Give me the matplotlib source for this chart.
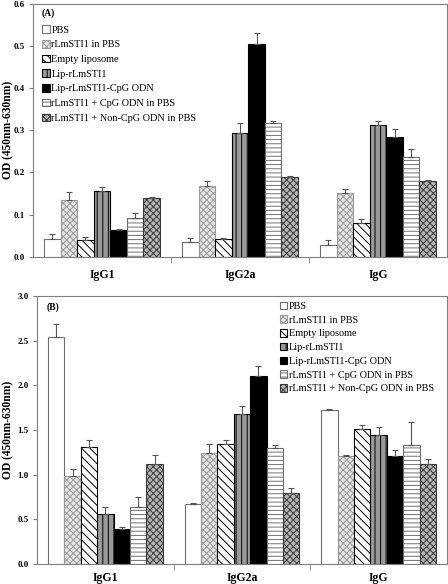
import numpy as np
import matplotlib
matplotlib.use('Agg')
import matplotlib.pyplot as plt

plt.rcParams['font.family'] = ['Liberation Serif', 'DejaVu Serif']
plt.rcParams['hatch.linewidth'] = 0.7

categories = ['IgG1', 'IgG2a', 'IgG']
groups = ['PBS', 'rLmSTI1 in PBS', 'Empty liposome', 'Lip-rLmSTI1',
          'Lip-rLmSTI1-CpG ODN', 'rLmSTI1 + CpG ODN in PBS',
          'rLmSTI1 + Non-CpG ODN in PBS']

# panel A, one list per group: IgG1, IgG2a, IgG
a_vals = [[0.042, 0.035, 0.028],
          [0.136, 0.168, 0.152],
          [0.039, 0.042, 0.080],
          [0.156, 0.294, 0.313],
          [0.065, 0.503, 0.284],
          [0.093, 0.316, 0.237],
          [0.139, 0.190, 0.180]]
a_err = [[0.013, 0.010, 0.012],
         [0.017, 0.013, 0.010],
         [0.009, 0.004, 0.009],
         [0.010, 0.023, 0.010],
         [0.002, 0.027, 0.018],
         [0.012, 0.005, 0.019],
         [0.004, 0.002, 0.002]]

# panel B
b_vals = [[2.54, 0.67, 1.72],
          [0.99, 1.24, 1.21],
          [1.31, 1.34, 1.51],
          [0.56, 1.68, 1.44],
          [0.39, 2.11, 1.21],
          [0.64, 1.30, 1.33],
          [1.12, 0.80, 1.12]]
b_err = [[0.15, 0.01, 0.02],
         [0.08, 0.11, 0.01],
         [0.08, 0.05, 0.05],
         [0.08, 0.09, 0.10],
         [0.03, 0.11, 0.07],
         [0.11, 0.03, 0.26],
         [0.10, 0.05, 0.06]]

styles = [dict(fc='white', ec='#707070', hatch=None),
          dict(fc='#e4e4e4', ec='#9a9a9a', hatch='xxxxx'),
          dict(fc='white', ec='black', hatch='\\\\\\\\'),
          dict(fc='#9a9a9a', ec='black', hatch='|||'),
          dict(fc='black', ec='black', hatch=None),
          dict(fc='white', ec='#707070', hatch='----'),
          dict(fc='#b4b4b4', ec='#3a3a3a', hatch='xxxxx')]


def draw_panel(ax, vals, errs, ymax, ystep, tag, tag_xy, leg_loc, spacing, xpad):
    x = np.arange(len(categories))
    n = len(groups)
    w = 0.84 / n
    handles = []
    for i in range(n):
        st = styles[i]
        pos = x - 0.42 + w * (i + 0.5)
        lo = np.zeros(len(categories))
        bars = ax.bar(pos, vals[i], w, color=st['fc'], edgecolor=st['ec'],
                      hatch=st['hatch'], linewidth=0.8, label=groups[i])
        ax.errorbar(pos, vals[i], yerr=[lo, errs[i]], fmt='none',
                    ecolor='#555555', elinewidth=0.8, capsize=2, capthick=0.8)
        handles.append(bars)
    ticks = np.arange(0, ymax + ystep / 2, ystep)
    ax.set_xlim(-0.5, 2.5)
    ax.set_ylim(0, ymax)
    ax.set_yticks(ticks)
    ax.set_yticklabels(['%.1f' % v for v in ticks], fontsize=6.5, fontweight='bold')
    ax.set_xticks(x)
    ax.set_xticklabels(categories, fontsize=8.5, fontweight='bold')
    ax.tick_params(axis='x', length=0, pad=xpad)
    ax.set_xticks([0.5, 1.5], minor=True)
    ax.tick_params(axis='x', which='minor', length=4, color='#808080')
    ax.tick_params(axis='y', length=3, color='#808080', pad=3)
    for s in ax.spines.values():
        s.set_color('#808080')
        s.set_linewidth(0.8)
    ax.set_ylabel('OD (450nm-630nm)', fontsize=8.3, fontweight='bold')
    ax.text(tag_xy[0], tag_xy[1], tag, transform=ax.transAxes, fontsize=7,
            fontweight='bold', va='center')
    ax.legend(handles=handles, loc='upper left', bbox_to_anchor=leg_loc,
              frameon=False, fontsize=7.4, handlelength=0.75, handleheight=0.75,
              handletextpad=0.15, labelspacing=spacing, borderaxespad=0)


fig = plt.figure(figsize=(4.48, 5.84), dpi=100)
ax1 = fig.add_axes([0.0737, 0.56, 0.924, 0.434])
ax2 = fig.add_axes([0.0826, 0.034, 0.915, 0.459])

draw_panel(ax1, a_vals, a_err, 0.6, 0.1, '(A)', (0.022, 0.96), (0.012, 0.93), 0.52, 9)
draw_panel(ax2, b_vals, b_err, 3.0, 0.5, '(B)', (0.024, 0.96), (0.582, 0.995), 0.43, 6)
ax1.yaxis.set_label_coords(-0.045, 0.5)
ax2.yaxis.set_label_coords(-0.055, 0.5)

fig.savefig('out.png', dpi=100)
